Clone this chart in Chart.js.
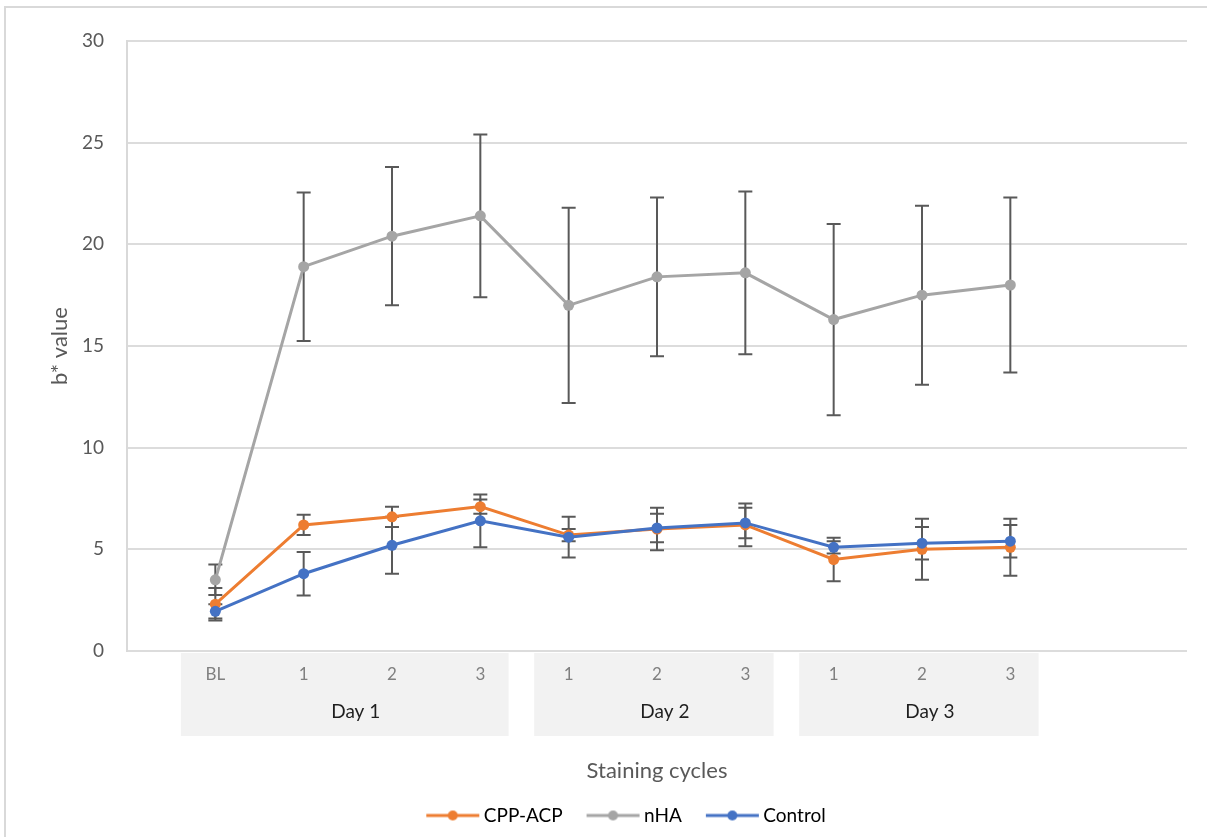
<!DOCTYPE html>
<html>
<head>
<meta charset="utf-8">
<script src="https://cdn.jsdelivr.net/npm/chart.js@4.4.0/dist/chart.umd.min.js"></script>
<style>
html, body { margin: 0; padding: 0; background: #fff; }
</style>
</head>
<body>
<canvas id="chart" width="1207" height="837"></canvas>
<script>

// x categories (first and two last slots are empty, like the excel axis)
const xLabels = ['', 'BL', '1', '2', '3', '1', '2', '3', '1', '2', '3', '', ''];
const groupNames = ['Day 1', 'Day 2', 'Day 3'];
const groupStart = [1, 5, 8];
const groupEnd = [4, 7, 10];

// b* values
const cppAcp  = [2.3, 6.2, 6.6, 7.1, 5.7, 6.0, 6.2, 4.5, 5.0, 5.1];
const nha     = [3.5, 18.9, 20.4, 21.4, 17.0, 18.4, 18.6, 16.3, 17.5, 18.0];
const control = [1.95, 3.8, 5.2, 6.4, 5.6, 6.05, 6.3, 5.1, 5.3, 5.4];

// error bars (+/-)
const cppAcpErr  = [0.8, 0.5, 0.5, 0.35, 0.3, 1.05, 1.05, 1.07, 1.5, 1.4];
const nhaErr     = [0.75, 3.65, 3.4, 4.0, 4.8, 3.9, 4.0, 4.7, 4.4, 4.3];
const controlErr = [0.35, 1.07, 1.4, 1.3, 1.0, 0.7, 0.75, 0.3, 0.8, 0.8];

const yTicks = [0, 5, 10, 15, 20, 25, 30];

function pad(arr) {
	return [null, ...arr, null, null];
}

Chart.defaults.font.family = "Lato";

function legendIcon(color) {
	const c = document.createElement('canvas');
	c.width = 116;
	c.height = 14;
	const g = c.getContext('2d');
	g.strokeStyle = color;
	g.lineWidth = 3;
	g.beginPath();
	g.moveTo(39, 7);
	g.lineTo(92, 7);
	g.stroke();
	g.fillStyle = color;
	g.beginPath();
	g.arc(65.5, 7, 5, 0, Math.PI * 2);
	g.fill();
	return c;
}

const errorBars = {
	id: 'errorBars',
	beforeDatasetsDraw(chart) {
		const { ctx, scales: { x, y } } = chart;
		ctx.save();
		ctx.strokeStyle = '#595959';
		ctx.lineWidth = 2;
		chart.data.datasets.forEach((ds) => {
			ds.data.forEach((v, i) => {
				if (v === null) return;
				const e = ds.errors[i];
				const px = x.getPixelForValue(i);
				const top = y.getPixelForValue(v + e);
				const bot = y.getPixelForValue(v - e);
				ctx.beginPath();
				ctx.moveTo(px, top);
				ctx.lineTo(px, bot);
				ctx.moveTo(px - 7, top);
				ctx.lineTo(px + 7, top);
				ctx.moveTo(px - 7, bot);
				ctx.lineTo(px + 7, bot);
				ctx.stroke();
			});
		});
		ctx.restore();
	}
};

const dayGroups = {
	id: 'dayGroups',
	beforeDraw(chart) {
		const { ctx, chartArea, scales: { x } } = chart;
		const step = x.getPixelForValue(1) - x.getPixelForValue(0);
		ctx.save();
		// light frame round the figure
		ctx.strokeStyle = '#d9d9d9';
		ctx.lineWidth = 2;
		ctx.strokeRect(5, 7, chart.width + 20, chart.height + 20);

		groupNames.forEach((name, i) => {
			const left = x.getPixelForValue(groupStart[i]) - step * 0.39;
			const right = x.getPixelForValue(groupEnd[i]) + step * 0.32;
			ctx.fillStyle = '#f2f2f2';
			ctx.fillRect(left, chartArea.bottom + 2, right - left, 83);
			ctx.fillStyle = '#1f1f1f';
			ctx.font = '19px Lato';
			ctx.textAlign = 'center';
			ctx.textBaseline = 'alphabetic';
			ctx.fillText(name, (left + right) / 2 + 11, chartArea.bottom + 67);
		});
		ctx.restore();
	}
};

function series(label, values, errors, color, order) {
	return {
		label: label,
		data: pad(values),
		errors: pad(errors),
		borderColor: color,
		backgroundColor: color,
		borderWidth: 3,
		pointRadius: 5.5,
		pointBorderWidth: 0,
		pointHoverRadius: 5.5,
		tension: 0,
		order: order,
		legendColor: color,
	};
}

new Chart(document.getElementById('chart'), {
	type: 'line',
	plugins: [dayGroups, errorBars],
	data: {
		labels: xLabels,
		datasets: [
			series('CPP-ACP', cppAcp, cppAcpErr, '#ED7D31', 3),
			series('nHA', nha, nhaErr, '#A5A5A5', 2),
			series('Control', control, controlErr, '#4472C4', 1),
		],
	},
	options: {
		responsive: false,
		animation: false,
		devicePixelRatio: 1,
		layout: {
			padding: { left: 55, right: 20, top: 41, bottom: 2 },
		},
		plugins: {
			tooltip: { enabled: false },
			legend: {
				position: 'bottom',
				labels: {
					usePointStyle: true,
					pointStyleWidth: 58,
					padding: 14,
					color: '#595959',
					font: { size: 19 },
					generateLabels(chart) {
						return chart.data.datasets.map((ds, i) => ({
							text: ds.label,
							datasetIndex: i,
							pointStyle: legendIcon(ds.legendColor),
							fillStyle: ds.legendColor,
							strokeStyle: ds.legendColor,
							lineWidth: 0,
							hidden: false,
						}));
					},
				},
			},
		},
		scales: {
			x: {
				offset: false,
				grid: { display: false, drawTicks: false },
				border: { display: false },
				ticks: {
					autoSkip: false,
					maxRotation: 0,
					padding: 13,
					color: '#808080',
					font: { size: 17 },
				},
				title: {
					display: true,
					text: 'Staining cycles',
					color: '#595959',
					font: { size: 22 },
					padding: { top: 0, bottom: 8 },
				},
				afterFit(scale) {
					scale.height = 141;
				},
			},
			y: {
				min: 0,
				max: 30,
				afterBuildTicks(scale) {
					scale.ticks = yTicks.map((v) => ({ value: v }));
				},
				grid: { color: '#dcdcdc', lineWidth: 2, drawTicks: false },
				border: { display: true, color: '#d9d9d9', width: 2 },
				ticks: {
					padding: 23,
					color: '#595959',
					font: { size: 19 },
				},
				title: {
					display: true,
					text: 'b* value',
					color: '#595959',
					font: { size: 22 },
					padding: { top: -8, bottom: 0 },
				},
				afterFit(scale) {
					scale.width = 72;
				},
			},
		},
	},
});
</script>
</body>
</html>
